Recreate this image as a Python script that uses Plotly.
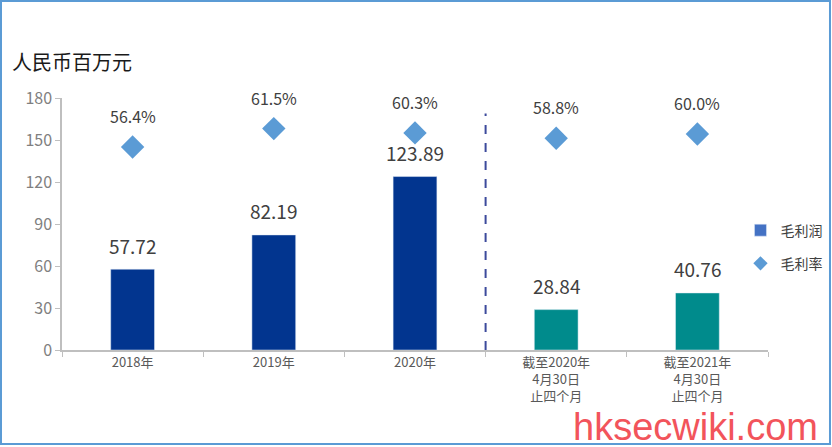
import plotly.graph_objects as go

categories = ["2018年", "2019年", "2020年",
              "截至2020年<br>4月30日<br>止四个月", "截至2021年<br>4月30日<br>止四个月"]
gross_profit = [57.72, 82.19, 123.89, 28.84, 40.76]
gross_margin = [56.4, 61.5, 60.3, 58.8, 60.0]
bar_colors = ["#02358F", "#02358F", "#02358F", "#008B8C", "#008B8C"]
y_ticks = [0, 30, 60, 90, 120, 150, 180]

FONT = "Noto Sans CJK SC"

fig = go.Figure()

# bars with per-bar colours, plus legend-only dummies
fig.add_trace(go.Bar(x=categories, y=gross_profit, marker_color=bar_colors,
                     width=0.31, showlegend=False, hoverinfo="skip"))
fig.add_trace(go.Scatter(x=categories, y=gross_margin, yaxis="y2", mode="markers",
                         showlegend=False,
                         marker=dict(symbol="diamond", size=18, color="#5B9BD5")))

fig.add_trace(go.Bar(x=[categories[0]], y=[None], name="毛利润", legendgroup="a",
                     marker_color="#4472C4"))
fig.add_trace(go.Scatter(x=[categories[0]], y=[None], name="毛利率", legendgroup="b",
                         mode="markers",
                         marker=dict(symbol="diamond", size=11, color="#5B9BD5")))

annotations = []
for c, v in zip(categories, gross_profit):
    annotations.append(dict(x=c, y=v, xref="x", yref="y", text=f"{v:.2f}",
                            showarrow=False, yanchor="middle", yshift=24,
                            font=dict(size=19, color="#404040", family=FONT)))
for c, v in zip(categories, gross_margin):
    annotations.append(dict(x=c, y=v, xref="x", yref="y2", text=f"{v:.1f}%",
                            showarrow=False, yanchor="middle", yshift=31,
                            font=dict(size=16, color="#404040", family=FONT)))

annotations.append(dict(x=-0.0737, y=1.143, xref="paper", yref="paper",
                        text="人民币百万元", showarrow=False, xanchor="left",
                        yanchor="middle", font=dict(size=20, color="#1a1a1a", family=FONT)))
annotations.append(dict(x=0.897, y=-0.304, xref="paper", yref="paper",
                        text="hksecwiki.com", showarrow=False, xanchor="center",
                        yanchor="middle", borderpad=0,
                        font=dict(size=38, color="#F2545B", family="Liberation Sans")))

shapes = [
    # dashed separator between full years and four-month periods
    dict(type="line", xref="x", yref="y", x0=2.5, x1=2.5, y0=0, y1=169,
         line=dict(color="#3C4A9C", width=2, dash="dash")),
    # outer frame
    dict(type="rect", xref="paper", yref="paper", x0=-0.0864, x1=1.0878,
         y0=-0.373, y1=1.385, line=dict(color="#5B9BD5", width=2)),
]

fig.update_layout(
    width=832, height=447,
    margin=dict(l=62, r=64, t=98, b=97, autoexpand=False),
    paper_bgcolor="white", plot_bgcolor="white",
    font=dict(family=FONT),
    barmode="overlay",
    xaxis=dict(type="category", showline=True, linecolor="#BFBFBF", linewidth=1.5,
               ticks="outside", tickson="boundaries", ticklen=5, tickcolor="#BFBFBF",
               tickfont=dict(size=13, color="#595959"), showgrid=False,
               ticklabelstandoff=0, range=[-0.5, 4.5]),
    yaxis=dict(range=[0, 180], tickvals=y_ticks, showline=True, linecolor="#BFBFBF",
               linewidth=1.5, ticks="outside", ticklen=5, tickcolor="#BFBFBF",
               tickfont=dict(size=16, color="#808080"), showgrid=False, zeroline=False),
    yaxis2=dict(range=[0, 70], overlaying="y", visible=False),
    legend=dict(xref="container", yref="container", x=0.89, y=0.52,
                xanchor="left", yanchor="top", traceorder="grouped",
                font=dict(size=14, color="#404040"), tracegroupgap=12,
                bgcolor="rgba(0,0,0,0)"),
    annotations=annotations,
    shapes=shapes,
)

fig.write_html("out.html", config={"displayModeBar": False},
               post_script="document.body.style.margin='0px';")
